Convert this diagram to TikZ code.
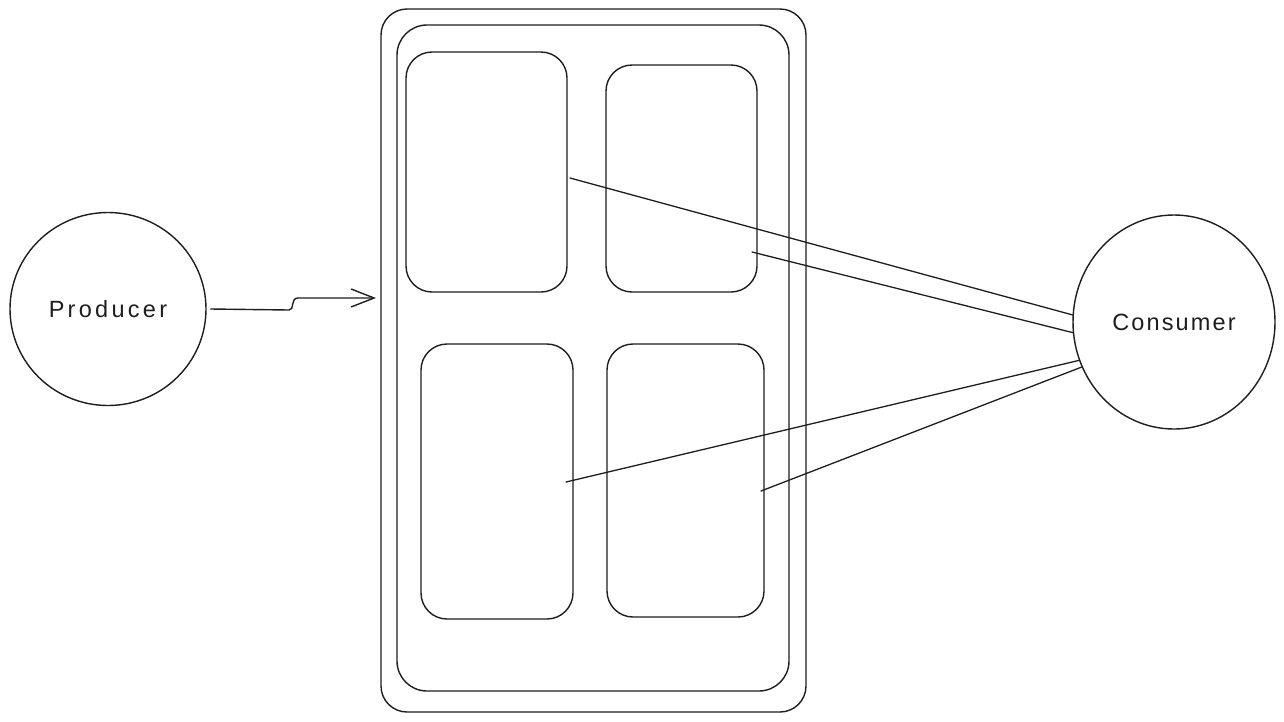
\documentclass[tikz,border=0pt]{standalone}
\usepackage{fontspec}
\setmainfont{Liberation Sans}
\usetikzlibrary{arrows.meta,shapes.geometric}
\definecolor{ink}{HTML}{1E1E1E}
\begin{document}
\begin{tikzpicture}[x=1pt,y=-1pt,
  every path/.style={draw=ink,line width=1.3pt,line join=round,line cap=round},
  box/.style={draw=ink,line width=1.4pt,rectangle,rounded corners=26pt,inner sep=0pt},
  bubble/.style={draw=ink,line width=1.4pt,ellipse,inner sep=0pt,text=ink,
    font=\fontsize{23.5}{27}\selectfont\addfontfeatures{LetterSpace=9}},
  link/.style={draw=ink,line width=1.3pt},
  feed/.style={draw=ink,line width=1.4pt,-{Straight Barb[length=23pt,width=18pt,line width=1.4pt]}}]
\useasboundingbox[fill=white,draw=none] (0,0) rectangle (1284,721);
% producer and consumer
\node[bubble,minimum width=196pt,minimum height=193pt] (prod) at (108,309) {\addfontfeatures{LetterSpace=14}Producer};
\node[bubble,minimum width=202pt,minimum height=214pt] (cons) at (1174,322) {Consumer};
% container
\node[box,minimum width=425pt,minimum height=703pt,rounded corners=26pt] (outer) at (593.5,360.5) {};
\node[box,minimum width=392pt,minimum height=666pt,rounded corners=30pt] (inner) at (593,358) {};
% partitions
\node[box,minimum width=161pt,minimum height=240pt] (tl) at (486.5,172) {};
\node[box,minimum width=151pt,minimum height=227pt] (tr) at (681.5,178.5) {};
\node[box,minimum width=152pt,minimum height=275pt] (bl) at (497,481.5) {};
\node[box,minimum width=157pt,minimum height=273pt] (br) at (685.5,480.5) {};
% connector start points
\coordinate (s1) at (570,178);
\coordinate (s2) at (752,252);
\coordinate (s3) at (566,482);
\coordinate (s4) at (761,491);
\coordinate (ain) at (376,298);
% producer -> container
\draw[feed] ([xshift=4pt]prod.east) -- (289,310)
  .. controls (295,310) and (290,298) .. (298,298) -- (ain);
% partitions -> consumer
\draw[link] (s1) -- (cons.176.6);
\draw[link] (s2) -- (cons.186.2);
\draw[link] (s3) -- (cons.202.5);
\draw[link] (s4) -- (cons.206.3);
\end{tikzpicture}
\end{document}
